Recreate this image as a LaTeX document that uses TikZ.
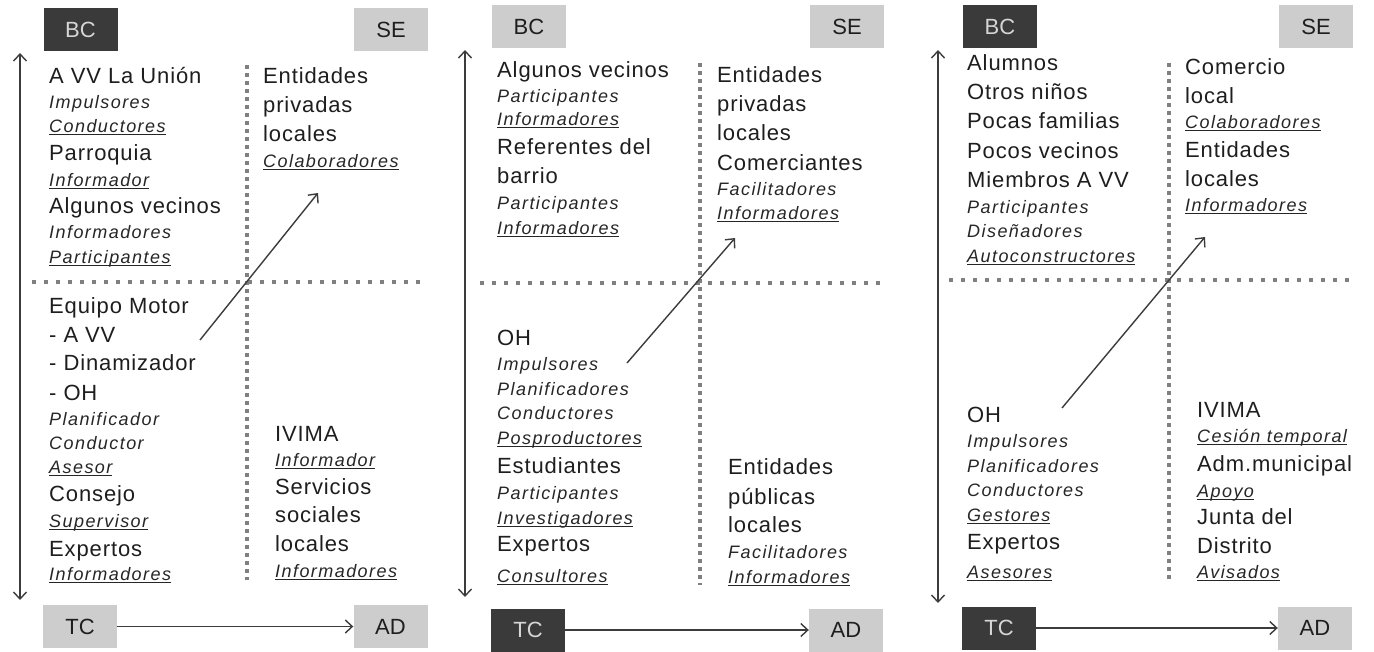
\documentclass[tikz,border=0pt]{standalone}
\usepackage{fontspec}
\setmainfont{Liberation Sans}
\newfontfamily\upf{Liberation Sans}[LetterSpace=4]
\newfontfamily\itf{Liberation Sans}[LetterSpace=8]
\usetikzlibrary{arrows.meta}
\definecolor{txt}{HTML}{1E1E1E}
\definecolor{itc}{HTML}{262626}
\definecolor{lightbox}{HTML}{CDCDCD}
\definecolor{darkbox}{HTML}{3A3A3A}
\definecolor{darktxt}{HTML}{D6D6D6}
\definecolor{linec}{HTML}{3C3C3C}
\definecolor{dotc}{HTML}{808080}
\newcommand\myul[1]{\leavevmode\setbox0=\hbox{#1}\rlap{\rule[-2.6pt]{\wd0}{0.9pt}}\box0}
\newcommand\wbig[1]{#1}
\newcommand\wit[1]{#1}
\newcommand\witu[1]{\myul{#1}}
\tikzset{
  big/.style={anchor=west, inner sep=0pt, text height=15.8pt, text depth=0pt, font=\upf\fontsize{22}{22}\selectfont, text=txt},
  it/.style={anchor=west, inner sep=0pt, text height=12.9pt, text depth=0pt, font=\itf\itshape\fontsize{18}{18}\selectfont, text=itc},
  itu/.style={it},
  lbox/.style={minimum width=74pt, minimum height=43pt, inner sep=0pt, fill=lightbox, text=txt, font=\fontsize{22}{22}\selectfont},
  dbox/.style={lbox, fill=darkbox, text=darktxt},
  hdots/.style={draw=dotc, line width=3.5pt, dash pattern=on 3.5pt off 8.5pt},
  vdots/.style={draw=dotc, line width=3.5pt, dash pattern=on 3.5pt off 4.5pt},
  arr/.style={draw=linec, line width=1.4pt, -{Straight Barb[length=7pt,width=13pt]}},
  darr/.style={draw=linec, line width=1.4pt, {Straight Barb[length=7pt,width=13pt]}-{Straight Barb[length=7pt,width=13pt]}},
}
\begin{document}
\begin{tikzpicture}[x=1pt,y=-1pt]
\fill[white] (0,0) rectangle (1374,651);
\useasboundingbox (0,0) rectangle (1374,651);

% ---------------- Panel 1 ----------------
\node[dbox] (p1bc) at (80.5,29.5) {BC};
\node[lbox] (p1se) at (391,29.5) {SE};
\node[lbox] (p1tc) at (80,626.5) {TC};
\node[lbox] (p1ad) at (390.5,626.5) {AD};
\draw[hdots] (32,282) -- (427,282);
\draw[vdots] (247,65) -- (247,580);
\coordinate (p1vt) at (20,53);
\coordinate (p1vb) at (20,600);
\draw[darr] (p1vt) -- (p1vb);
\coordinate (p1ds) at (200,340);
\coordinate (p1de) at (318,193);
\draw[arr] (p1ds) -- (p1de);
\draw[arr] (p1tc) -- (p1ad);
\foreach \y/\s/\t [count=\i] in {
  76/big/A VV La Unión, 102/it/Impulsores, 126/itu/Conductores,
  153/big/Parroquia, 180/itu/Informador, 206/big/Algunos vecinos,
  232/it/Informadores, 257/itu/Participantes, 306/big/Equipo Motor,
  335/big/- A VV, 363/big/- Dinamizador, 393/big/- OH,
  419/it/Planificador, 443/it/Conductor, 467/itu/Asesor,
  494/big/Consejo, 521/itu/Supervisor, 549/big/Expertos, 574/itu/Informadores}
  {\node[style=\s] (p1l\i) at (49,\y) {\csname w\s\endcsname{\t}};}
\foreach \y/\s/\t [count=\i] in {
  76/big/Entidades, 105/big/privadas, 134/big/locales, 161/itu/Colaboradores}
  {\node[style=\s] (p1r\i) at (263,\y) {\csname w\s\endcsname{\t}};}
\foreach \y/\s/\t [count=\i] in {
  434/big/IVIMA, 460/itu/Informador, 487/big/Servicios,
  515/big/sociales, 544/big/locales, 571/itu/Informadores}
  {\node[style=\s] (p1s\i) at (275,\y) {\csname w\s\endcsname{\t}};}

% ---------------- Panel 2 ----------------
\node[lbox] (p2bc) at (529,26.5) {BC};
\node[lbox] (p2se) at (847,26.5) {SE};
\node[dbox] (p2tc) at (528,630) {TC};
\node[lbox] (p2ad) at (846,630) {AD};
\draw[hdots] (480,283) -- (882,283);
\draw[vdots] (700,63) -- (700,585);
\coordinate (p2vt) at (465,50);
\coordinate (p2vb) at (465,597);
\draw[darr] (p2vt) -- (p2vb);
\coordinate (p2ds) at (627,363);
\coordinate (p2de) at (735,238);
\draw[arr] (p2ds) -- (p2de);
\draw[arr] (p2tc) -- (p2ad);
\foreach \y/\s/\t [count=\i] in {
  70/big/Algunos vecinos, 96/it/Participantes, 119/itu/Informadores,
  147/big/Referentes del, 176/big/barrio, 203/it/Participantes,
  228/itu/Informadores, 338/big/OH, 364/it/Impulsores,
  389/it/Planificadores, 413/it/Conductores, 438/itu/Posproductores,
  466/big/Estudiantes, 493/it/Participantes, 518/itu/Investigadores,
  544/big/Expertos, 576/itu/Consultores}
  {\node[style=\s] (p2l\i) at (497,\y) {\csname w\s\endcsname{\t}};}
\foreach \y/\s/\t [count=\i] in {
  75/big/Entidades, 104/big/privadas, 133/big/locales,
  163/big/Comerciantes, 189/it/Facilitadores, 213/itu/Informadores}
  {\node[style=\s] (p2r\i) at (717,\y) {\csname w\s\endcsname{\t}};}
\foreach \y/\s/\t [count=\i] in {
  467/big/Entidades, 497/big/públicas, 525/big/locales,
  552/it/Facilitadores, 577/itu/Informadores}
  {\node[style=\s] (p2s\i) at (728,\y) {\csname w\s\endcsname{\t}};}

% ---------------- Panel 3 ----------------
\node[dbox] (p3bc) at (1000,26.5) {BC};
\node[lbox] (p3se) at (1316,26.5) {SE};
\node[dbox] (p3tc) at (999,628) {TC};
\node[lbox] (p3ad) at (1315,628) {AD};
\draw[hdots] (949,280) -- (1350,280);
\draw[vdots] (1169,63) -- (1169,582);
\coordinate (p3vt) at (938,50);
\coordinate (p3vb) at (938,603);
\draw[darr] (p3vt) -- (p3vb);
\coordinate (p3ds) at (1062,408);
\coordinate (p3de) at (1205,237);
\draw[arr] (p3ds) -- (p3de);
\draw[arr] (p3tc) -- (p3ad);
\foreach \y/\s/\t [count=\i] in {
  63/big/Alumnos, 92/big/Otros niños, 121/big/Pocas familias,
  151/big/Pocos vecinos, 180/big/Miembros A VV, 207/it/Participantes,
  231/it/Diseñadores, 256/itu/Autoconstructores, 415/big/OH,
  441/it/Impulsores, 466/it/Planificadores, 490/it/Conductores,
  515/itu/Gestores, 542/big/Expertos, 572/itu/Asesores}
  {\node[style=\s] (p3l\i) at (967,\y) {\csname w\s\endcsname{\t}};}
\foreach \y/\s/\t [count=\i] in {
  67/big/Comercio, 96/big/local, 122/itu/Colaboradores,
  150/big/Entidades, 179/big/locales, 205/itu/Informadores}
  {\node[style=\s] (p3r\i) at (1185,\y) {\csname w\s\endcsname{\t}};}
\foreach \y/\s/\t [count=\i] in {
  410/big/IVIMA, 436/itu/Cesión temporal, 464/big/Adm.municipal,
  491/itu/Apoyo, 517/big/Junta del, 546/big/Distrito, 572/itu/Avisados}
  {\node[style=\s] (p3s\i) at (1197,\y) {\csname w\s\endcsname{\t}};}
\end{tikzpicture}
\end{document}
